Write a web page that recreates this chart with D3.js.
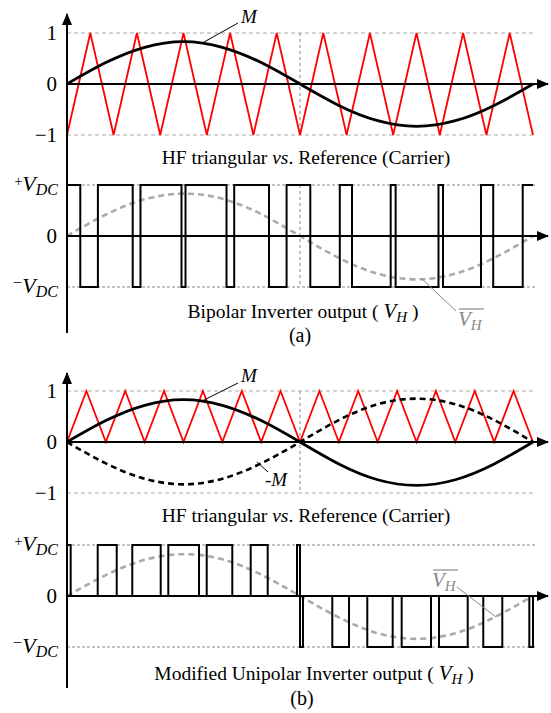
<!DOCTYPE html>
<html>
<head>
<meta charset="utf-8">
<script src="https://cdn.jsdelivr.net/npm/d3@7"></script>
<style>
  body { margin: 0; background: #fff; }
  text { font-family: "Liberation Serif", "Times New Roman", serif; fill: #000; }
</style>
</head>
<body>
<div id="chart"></div>
<script>
// Time is a fraction of the fundamental period (0..1)

// HF carrier vertices, (a) bipolar: -1..1, 10 periods
const carrierA = [[0,-1],[0.05,1],[0.1,-1],[0.15,1],[0.2,-1],[0.25,1],[0.3,-1],[0.35,1],[0.4,-1],[0.45,1],
  [0.5,-1],[0.55,1],[0.6,-1],[0.65,1],[0.7,-1],[0.75,1],[0.8,-1],[0.85,1],[0.9,-1],[0.95,1],[1,-1]];
// HF carrier vertices, (b) unipolar: 0..1, 12 periods
const carrierB = [[0,0],[0.0417,1],[0.0833,0],[0.125,1],[0.1667,0],[0.2083,1],[0.25,0],[0.2917,1],[0.3333,0],
  [0.375,1],[0.4167,0],[0.4583,1],[0.5,0],[0.5417,1],[0.5833,0],[0.625,1],[0.6667,0],[0.7083,1],[0.75,0],
  [0.7917,1],[0.8333,0],[0.875,1],[0.9167,0],[0.9583,1],[1,0]];

// Reference (M) and averaged output
const refTimes = [0, 0.0833, 0.1667, 0.25, 0.3333, 0.4167, 0.5, 0.5833, 0.6667, 0.75, 0.8333, 0.9167, 1];
const refA = [0, 0.42, 0.72, 0.83, 0.72, 0.42, 0, -0.42, -0.72, -0.83, -0.72, -0.42, 0];
const refB = [0, 0.42, 0.72, 0.83, 0.72, 0.42, 0, -0.43, -0.74, -0.85, -0.74, -0.43, 0];
const avgA = [0, 0.42, 0.72, 0.83, 0.73, 0.43, 0, -0.43, -0.74, -0.85, -0.74, -0.43, 0];
const avgB = [0, 0.41, 0.71, 0.82, 0.72, 0.42, 0, -0.42, -0.73, -0.84, -0.73, -0.42, 0];

// Bipolar output switching instants (starts at +VDC)
const bipolarEdges = [0.0285, 0.0663, 0.141, 0.1577, 0.2457, 0.2543, 0.3423, 0.3588, 0.4335, 0.4712,
  0.5221, 0.5854, 0.6116, 0.6946, 0.7052, 0.7972, 0.8069, 0.8884, 0.9146, 0.9779];

// Modified unipolar output: switching instants and level after each switch
const unipolarEdges = [0, 0.0079, 0.0659, 0.1067, 0.1401, 0.2011, 0.2174, 0.2833, 0.2998, 0.3547, 0.3942, 0.4307,
  0.4936, 0.5, 0.5064, 0.5693, 0.6052, 0.6444, 0.6989, 0.7182, 0.7811, 0.7983, 0.8599, 0.8933, 0.9341, 0.9921, 1];
const unipolarLevels = [1, 0, 1, 0, 1, 0, 1, 0, 1, 0, 1, 0,
  1, -1, 0, -1, 0, -1, 0, -1, 0, -1, 0, -1, 0, -1, 0];

const W = 551, H = 713;
const svg = d3.select('#chart').append('svg')
  .attr('width', W).attr('height', H);

svg.append('defs').append('marker')
  .attr('id', 'arrow')
  .attr('viewBox', '0 0 12 10')
  .attr('refX', 11).attr('refY', 5)
  .attr('markerWidth', 6).attr('markerHeight', 5)
  .attr('orient', 'auto')
  .append('path').attr('d', 'M0,0L12,5L0,10z').attr('fill', '#000');

const x = d3.scaleLinear().domain([0, 1]).range([67, 533]);
const x0 = x(0), xArrow = 548;

// one y scale per strip
const yA1 = d3.scaleLinear().domain([-1, 1]).range([135, 33]);
const yA2 = d3.scaleLinear().domain([-1, 1]).range([287, 185]);
const yB1 = d3.scaleLinear().domain([-1, 1]).range([493, 391]);
const yB2 = d3.scaleLinear().domain([-1, 1]).range([647, 545]);

const pts = (ys) => refTimes.map((t, i) => [t, ys[i]]);

function grid(y, color, dash, right) {
  [-1, 1].forEach(v => {
    svg.append('line')
      .attr('x1', x0).attr('x2', right)
      .attr('y1', y(v)).attr('y2', y(v))
      .attr('stroke', color).attr('stroke-width', 1.2)
      .attr('stroke-dasharray', dash);
  });
}
function vline(y) {
  svg.append('line')
    .attr('x1', x(0.5)).attr('x2', x(0.5))
    .attr('y1', y(1)).attr('y2', y(-1))
    .attr('stroke', '#999').attr('stroke-width', 1.2)
    .attr('stroke-dasharray', '3,3');
}
function xAxis(y) {
  svg.append('line')
    .attr('x1', x0).attr('x2', xArrow)
    .attr('y1', y(0)).attr('y2', y(0))
    .attr('stroke', '#000').attr('stroke-width', 2)
    .attr('marker-end', 'url(#arrow)');
}
function yAxis(top, bottom) {
  svg.append('line')
    .attr('x1', x0).attr('x2', x0)
    .attr('y1', bottom).attr('y2', top)
    .attr('stroke', '#000').attr('stroke-width', 2)
    .attr('marker-end', 'url(#arrow)');
}
function numLabel(y, v, txt) {
  svg.append('text')
    .attr('x', 57).attr('y', y(v))
    .attr('text-anchor', 'end').attr('dominant-baseline', 'central')
    .attr('font-size', 21).text(txt);
}
function vdcLabel(y, v, sign) {
  const t = svg.append('text')
    .attr('x', 58).attr('y', y(v) + 6)
    .attr('text-anchor', 'end').attr('font-size', 22);
  t.append('tspan').attr('font-size', sign === '+' ? 14 : 17).attr('dy', -5).text(sign);
  t.append('tspan').attr('font-style', 'italic').attr('dy', 5).text('V');
  t.append('tspan').attr('font-style', 'italic').attr('font-size', 16).attr('dy', 4).text('DC');
}
function caption(cx, y, before, italic, after, vh) {
  const t = svg.append('text').attr('x', cx).attr('y', y)
    .attr('text-anchor', 'middle').attr('font-size', 19.5);
  t.append('tspan').text(before);
  if (italic) t.append('tspan').attr('font-style', 'italic').text(italic);
  if (vh) {
    t.append('tspan').attr('font-style', 'italic').attr('font-size', 21).text('V');
    t.append('tspan').attr('font-style', 'italic').attr('font-size', 15).attr('dy', 4).text('H');
    t.append('tspan').attr('dy', -4).text(after);
  } else {
    t.append('tspan').text(after);
  }
}
function vhBar(px, py) {
  const t = svg.append('text').attr('x', px).attr('y', py)
    .attr('font-size', 21).style('fill', '#888');
  t.append('tspan').attr('font-style', 'italic').text('V');
  t.append('tspan').attr('font-style', 'italic').attr('font-size', 15).attr('dy', 4).text('H');
  const bb = t.node().getBBox();
  svg.append('line')
    .attr('x1', bb.x + 1).attr('x2', bb.x + bb.width + 1)
    .attr('y1', py - 17).attr('y2', py - 17)
    .attr('stroke', '#888').attr('stroke-width', 1.2);
}
function leader(x1, y1, x2, y2, color) {
  svg.append('line')
    .attr('x1', x1).attr('y1', y1).attr('x2', x2).attr('y2', y2)
    .attr('stroke', color).attr('stroke-width', 1);
}

const lineFor = (y, curve) => d3.line().x(d => x(d[0])).y(d => y(d[1])).curve(curve);

// ---------- (a) top: carrier vs reference ----------
grid(yA1, '#aaa', '4,3', x(1));
vline(yA1);
svg.append('path').datum(carrierA)
  .attr('d', lineFor(yA1, d3.curveLinear))
  .attr('fill', 'none').attr('stroke', '#f00').attr('stroke-width', 1.8);
xAxis(yA1);
svg.append('path').datum(pts(refA))
  .attr('d', lineFor(yA1, d3.curveNatural))
  .attr('fill', 'none').attr('stroke', '#000').attr('stroke-width', 2.8);
numLabel(yA1, 1, '1');
numLabel(yA1, 0, '0');
numLabel(yA1, -1, '\u22121');
svg.append('text').attr('x', 241).attr('y', 23)
  .attr('font-size', 19).attr('font-style', 'italic').text('M');
leader(238, 23, 204, 42, '#000');
caption(306, 164, 'HF triangular ', 'vs', '. Reference (Carrier)');

// ---------- (a) bottom: bipolar output ----------
grid(yA2, '#888', '3,2', 535);
vline(yA2);
svg.append('path').datum(pts(avgA))
  .attr('d', lineFor(yA2, d3.curveNatural))
  .attr('fill', 'none').attr('stroke', '#aaa').attr('stroke-width', 2.6)
  .attr('stroke-dasharray', '6,4');
xAxis(yA2);
const bipolarPts = [[0, 1]].concat(bipolarEdges.map((t, i) => [t, i % 2 === 0 ? -1 : 1]));
bipolarPts.push([1, bipolarPts[bipolarPts.length - 1][1]]);
svg.append('path').datum(bipolarPts)
  .attr('d', lineFor(yA2, d3.curveStepAfter))
  .attr('fill', 'none').attr('stroke', '#000').attr('stroke-width', 2);
vdcLabel(yA2, 1, '+');
numLabel(yA2, 0, '0');
vdcLabel(yA2, -1, '\u2212');
yAxis(14, 333);
caption(303, 318, 'Bipolar Inverter output ( ', null, ' )', true);
vhBar(458, 326);
leader(456, 311, 422, 279, '#888');
svg.append('text').attr('x', 300).attr('y', 342)
  .attr('text-anchor', 'middle').attr('font-size', 20).text('(a)');

// ---------- (b) top: carrier vs +/-M ----------
grid(yB1, '#aaa', '4,3', x(1));
vline(yB1);
svg.append('path').datum(carrierB)
  .attr('d', lineFor(yB1, d3.curveLinear))
  .attr('fill', 'none').attr('stroke', '#f00').attr('stroke-width', 1.8);
xAxis(yB1);
svg.append('path').datum(pts(refB))
  .attr('d', lineFor(yB1, d3.curveNatural))
  .attr('fill', 'none').attr('stroke', '#000').attr('stroke-width', 2.8);
svg.append('path').datum(pts(refB.map(v => -v)))
  .attr('d', lineFor(yB1, d3.curveNatural))
  .attr('fill', 'none').attr('stroke', '#000').attr('stroke-width', 2.6)
  .attr('stroke-dasharray', '6,4');
numLabel(yB1, 1, '1');
numLabel(yB1, 0, '0');
numLabel(yB1, -1, '\u22121');
svg.append('text').attr('x', 241).attr('y', 382)
  .attr('font-size', 19).attr('font-style', 'italic').text('M');
leader(238, 383, 204, 400, '#000');
svg.append('text').attr('x', 265).attr('y', 486)
  .attr('font-size', 19).attr('font-style', 'italic').text('-M');
leader(257, 462, 268, 472, '#000');
caption(306, 522, 'HF triangular ', 'vs', '. Reference (Carrier)');

// ---------- (b) bottom: modified unipolar output ----------
grid(yB2, '#888', '3,2', 535);
svg.append('path').datum(pts(avgB))
  .attr('d', lineFor(yB2, d3.curveNatural))
  .attr('fill', 'none').attr('stroke', '#aaa').attr('stroke-width', 2.6)
  .attr('stroke-dasharray', '6,4');
xAxis(yB2);
const unipolarPts = [[0, 0]].concat(unipolarEdges.map((t, i) => [t, unipolarLevels[i]]));
svg.append('path').datum(unipolarPts)
  .attr('d', lineFor(yB2, d3.curveStepAfter))
  .attr('fill', 'none').attr('stroke', '#000').attr('stroke-width', 2);
vdcLabel(yB2, 1, '+');
numLabel(yB2, 0, '0');
vdcLabel(yB2, -1, '\u2212');
yAxis(373, 688);
caption(314, 680, 'Modified Unipolar Inverter output ( ', null, ' )', true);
vhBar(432, 587);
leader(457, 587, 496, 617, '#888');
svg.append('text').attr('x', 302).attr('y', 705)
  .attr('text-anchor', 'middle').attr('font-size', 20).text('(b)');
</script>
</body>
</html>
